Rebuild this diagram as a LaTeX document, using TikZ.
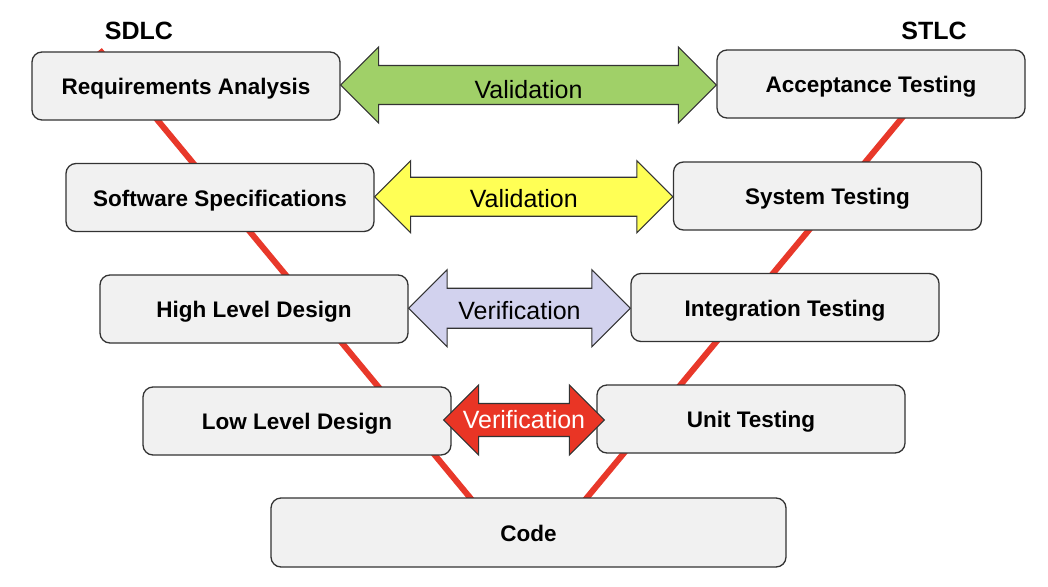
\documentclass[tikz,border=0pt]{standalone}
\usepackage{fontspec}
\setmainfont{Liberation Sans}
\usetikzlibrary{calc}
\definecolor{boxfill}{HTML}{F1F1F1}
\definecolor{boxline}{HTML}{333333}
\definecolor{vred}{HTML}{E8382A}
\definecolor{agreen}{HTML}{A0D068}
\definecolor{ayellow}{HTML}{FFFF55}
\definecolor{alav}{HTML}{D2D2EE}
\definecolor{ared}{HTML}{E93525}
\tikzset{
  phase/.style={draw=boxline, fill=boxfill, line width=1.3pt, rounded corners=10pt,
    minimum width=308pt, minimum height=68pt, inner sep=0pt,
    text height=22pt, text depth=5pt,
    font=\fontsize{22.5}{27}\selectfont\bfseries},
  vline/.style={draw=vred, line width=6pt},
  twowayline/.style={draw=boxline, line width=1.1pt, line join=miter},
  arrowlabel/.style={font=\fontsize{25}{30}\selectfont, inner sep=0pt,
    text height=27pt, text depth=5pt},
  title/.style={font=\fontsize{25}{30}\selectfont\bfseries, inner sep=0pt},
}
\newcommand\twoway[6]{% left node, right node, fill, shaft half, head half, inset
  \draw[twowayline, fill=#3] let \p1=($(#1.east)+(-#6,0)$), \p2=($(#2.west)+(#6,0)$),
    \n1={0.5*(\y1+\y2)} in
    (\x1,\n1) -- ({\x1+#5pt},{\n1+#5pt}) -- ({\x1+#5pt},{\n1+#4pt})
    -- ({\x2-#5pt},{\n1+#4pt}) -- ({\x2-#5pt},{\n1+#5pt}) -- (\x2,\n1)
    -- ({\x2-#5pt},{\n1-#5pt}) -- ({\x2-#5pt},{\n1-#4pt})
    -- ({\x1+#5pt},{\n1-#4pt}) -- ({\x1+#5pt},{\n1-#5pt}) -- cycle;
}
\begin{document}
\begin{tikzpicture}[x=1pt,y=-1pt]
\useasboundingbox (0,0) rectangle (1048,586);
% V lines
\coordinate (vtl) at (99.5,50);
\coordinate (vbl) at (472,500);
\coordinate (vtr) at (955,54);
\coordinate (vbr) at (585,500);
\draw[vline] (vtl) -- (vbl);
\draw[vline] (vtr) -- (vbr);
% titles
\node[title] (sdlc) at (139,30.5) {SDLC};
\node[title] (stlc) at (934,30.5) {STLC};
% phases
\node[phase] (ra) at (186,86) {Requirements Analysis};
\node[phase] (ss) at (220,197.5) {Software Specifications};
\node[phase] (hl) at (254,309) {High Level Design};
\node[phase] (ll) at (297,421) {Low Level Design};
\node[phase] (at) at (871,84) {Acceptance Testing};
\node[phase] (st) at (827.5,196) {System Testing};
\node[phase] (it) at (785,307.5) {Integration Testing};
\node[phase] (ut) at (751,419) {Unit Testing};
\node[phase, minimum width=515pt, minimum height=69pt] (cd) at (528.5,532.5) {Code};
% arrows
\twoway{ra}{at}{agreen}{19.5}{38}{0}
\twoway{ss}{st}{ayellow}{19.5}{36}{0}
\twoway{hl}{it}{alav}{20}{38.5}{0}
\twoway{ll}{ut}{ared}{16.5}{35}{8}
\node[arrowlabel, yshift=-2.5pt] (lab1) at ($(ra.east)!0.5!(at.west)$) {Validation};
\node[arrowlabel] (lab2) at ($(ss.east)!0.5!(st.west)$) {Validation};
\node[arrowlabel] (lab3) at ($(hl.east)!0.5!(it.west)$) {Verification};
\node[arrowlabel, text=white, yshift=3pt] (lab4) at ($(ll.east)!0.5!(ut.west)$) {Verification};
\end{tikzpicture}
\end{document}
